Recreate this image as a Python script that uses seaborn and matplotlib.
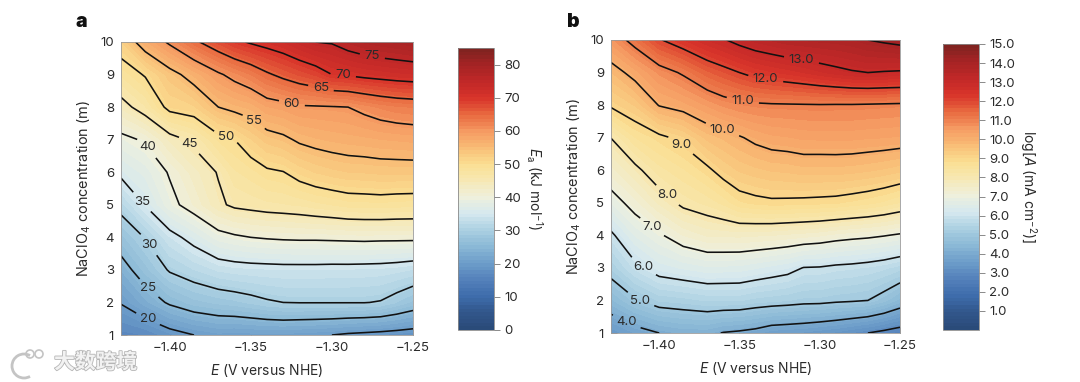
import numpy as np
import matplotlib
matplotlib.use("Agg")
import matplotlib.pyplot as plt
import matplotlib.patheffects as pe
from matplotlib.patches import Circle, Arc
import seaborn as sns

sns.set_theme(style="ticks")
plt.rcParams['font.family'] = ['Inter', 'DejaVu Sans']
plt.rcParams['mathtext.fontset'] = 'custom'
plt.rcParams['mathtext.rm'] = 'Inter'
plt.rcParams['mathtext.it'] = 'Inter:italic'
plt.rcParams['mathtext.default'] = 'regular'

# values
potential = [-1.43, -1.415, -1.40, -1.385, -1.37, -1.36, -1.35, -1.34, -1.33, -1.32,
             -1.31, -1.30, -1.29, -1.28, -1.27, -1.26, -1.25]
conc = [1, 2, 3, 4, 5, 6, 7, 8, 9, 10]

# rows = conc, columns = potential
ea_grid = [
    [16.5, 17.0, 18.7, 20.0, 20.8, 20.6, 20.7, 20.8, 20.8, 20.5, 20.3, 20.0, 19.5, 19.2, 18.9, 18.6, 18.3],
    [20.2, 22.9, 25.5, 27.1, 27.9, 28.3, 28.9, 29.6, 30.0, 30.1, 30.1, 30.1, 30.1, 30.1, 29.8, 28.6, 27.2],
    [23.4, 27.0, 30.35, 31.8, 33.1, 33.5, 33.7, 33.8, 33.9, 33.9, 33.9, 33.8, 33.8, 33.7, 33.6, 33.3, 32.8],
    [27.1, 30.2, 33.85, 36.2, 38.8, 39.5, 40.0, 40.3, 40.5, 40.6, 40.6, 40.7, 40.8, 40.9, 40.8, 40.8, 40.8],
    [31.3, 35.2, 39.0, 41.5, 44.4, 45.6, 46.0, 46.4, 46.6, 46.9, 47.4, 47.8, 48.3, 48.4, 48.5, 48.3, 48.2],
    [35.8, 37.6, 40.3, 43.05, 45.2, 47.6, 48.4, 49.5, 49.9, 51.2, 52.1, 52.7, 53.1, 53.2, 53.4, 53.4, 53.4],
    [39.1, 40.4, 43.7, 45.7, 49.0, 50.0, 51.9, 53.6, 54.3, 55.5, 56.1, 56.5, 56.8, 57.0, 57.3, 57.5, 57.7],
    [43.7, 46.6, 51.0, 51.8, 55.0, 55.9, 56.6, 58.3, 58.8, 59.6, 59.7, 59.8, 60.0, 60.9, 61.8, 62.4, 62.7],
    [48.0, 50.3, 53.7, 56.5, 59.5, 61.1, 62.6, 64.5, 65.9, 67.1, 68.2, 70.0, 70.4, 71.0, 71.4, 71.8, 72.1],
    [52.0, 57.0, 60.6, 64.3, 67.3, 69.2, 70.4, 71.3, 72.2, 73.7, 75.0, 75.3, 76.7, 77.7, 78.4, 78.9, 79.5],
]
loga_grid = [
    [3.4, 3.75, 4.0, 4.15, 4.15, 3.97, 3.9, 3.8, 3.6, 3.55, 3.5, 3.4, 3.3, 3.15, 3.0, 2.85, 2.7],
    [4.44, 4.94, 5.27, 5.34, 5.45, 5.45, 5.45, 5.35, 5.30, 5.25, 5.18, 5.17, 5.10, 5.06, 5.0, 4.75, 4.40],
    [5.27, 5.86, 6.26, 6.40, 6.52, 6.50, 6.48, 6.39, 6.29, 6.19, 5.98, 5.96, 5.88, 5.84, 5.77, 5.67, 5.51],
    [5.89, 6.57, 6.93, 7.31, 7.52, 7.54, 7.55, 7.52, 7.49, 7.44, 7.39, 7.33, 7.23, 7.16, 7.11, 7.03, 6.93],
    [6.73, 7.23, 7.72, 8.13, 8.31, 8.49, 8.77, 8.86, 8.91, 8.90, 8.88, 8.86, 8.83, 8.76, 8.68, 8.57, 8.41],
    [7.41, 7.86, 8.35, 8.59, 8.90, 9.20, 9.40, 9.50, 9.58, 9.61, 9.67, 9.66, 9.67, 9.64, 9.59, 9.52, 9.43],
    [8.01, 8.61, 8.88, 9.14, 9.62, 9.78, 9.95, 10.13, 10.25, 10.29, 10.35, 10.36, 10.36, 10.36, 10.33, 10.31, 10.28],
    [9.08, 9.39, 10.03, 10.22, 10.52, 10.72, 10.85, 10.91, 10.94, 10.95, 10.96, 10.97, 10.96, 10.96, 10.94, 10.92, 10.9],
    [9.73, 10.21, 10.73, 11.08, 11.56, 11.78, 12.0, 12.21, 12.33, 12.44, 12.56, 12.7, 12.83, 12.94, 13.0, 12.96, 12.93],
    [10.6, 11.24, 11.95, 12.35, 12.74, 12.95, 13.2, 13.39, 13.52, 13.65, 13.7, 13.75, 13.78, 13.85, 14.0, 14.1, 14.2],
]

ea_lines = [20, 25, 30, 35, 40, 45, 50, 55, 60, 65, 70, 75]
loga_lines = [3, 4, 5, 6, 7, 8, 9, 10, 11, 12, 13, 14]
ea_ticks = [0, 10, 20, 30, 40, 50, 60, 70, 80]
loga_ticks = [1, 2, 3, 4, 5, 6, 7, 8, 9, 10, 11, 12, 13, 14, 15]
x_ticks = [-1.40, -1.35, -1.30, -1.25]

# where the inline labels sit
ea_label_pos = [(-1.2757, 9.38), (-1.2931, 8.96), (-1.3064, 8.66), (-1.3243, 8.19),
                (-1.3461, 7.70), (-1.3639, 7.31), (-1.3851, 6.98), (-1.4126, 6.80),
                (-1.4191, 5.0), (-1.4169, 3.63), (-1.4142, 2.36), (-1.4154, 1.26)]
loga_label_pos = [(-1.3112, 9.44), (-1.3337, 8.80), (-1.348, 8.12), (-1.3592, 7.43),
                  (-1.3845, 6.92), (-1.3974, 5.09), (-1.4061, 4.15), (-1.4109, 2.97),
                  (-1.4119, 1.99), (-1.4202, 1.35)]

# one colour every 5 kJ/mol on the panel a bar
cmap = sns.blend_palette(
    ["#2a4a78", "#31568a", "#3e6cab", "#5380ba", "#6c9cc9", "#8ab8d6", "#aacfe1", "#d5e8ef", "#eef0dd",
     "#f7e8b4", "#fadf92", "#f9bd76", "#f59a62", "#e8693f", "#d8332a", "#c02828", "#a52324", "#7e2320"],
    n_colors=256, as_cmap=True)

W, H = 1080, 382
fig = plt.figure(figsize=(W / 100, H / 100), dpi=100, facecolor="white")
TXT = "#2b2b2b"
GREY = "#8a8a8a"


def px_axes(x0, y0, x1, y1):
    return fig.add_axes([x0 / W, 1 - y1 / H, (x1 - x0) / W, (y1 - y0) / H])


def panel(box, cbox, grid, vmax, band, lines, fmt, label_pos, ticks, tick_fmt, cb_label, letter, letter_x):
    ax = px_axes(*box)
    cax = px_axes(*cbox)
    fills = np.linspace(0, vmax, band + 1)
    cf = ax.contourf(potential, conc, grid, levels=fills, cmap=cmap, vmin=0, vmax=vmax)
    cf.set_edgecolor("face")
    cf.set_linewidth(0.3)
    cs = ax.contour(potential, conc, grid, levels=lines, colors="#111111", linewidths=1.15)
    lab = ax.clabel(cs, fmt=fmt, fontsize=9.5, manual=label_pos, inline=True, inline_spacing=5)
    for t in lab:
        t.set_color(TXT)
        t.set_rotation(0)
    ax.set_xlim(-1.43, -1.25)
    ax.set_ylim(1, 10)
    ax.set_xticks(x_ticks)
    ax.set_xticklabels(["\u22121.40", "\u22121.35", "\u22121.30", "\u22121.25"])
    ax.set_yticks(conc)
    ax.tick_params(direction="in", length=4, width=0.6, color=GREY, labelsize=9.5, labelcolor=TXT, pad=5)
    ax.tick_params(axis="x", pad=5)
    for s in ax.spines.values():
        s.set_linewidth(0.6)
        s.set_color("#9a9a9a")
    ax.set_xlabel(r"$\mathit{E}$ (V versus NHE)", fontsize=10, color=TXT, labelpad=6)
    ax.set_ylabel("NaClO$_{4}$ concentration (m)", fontsize=10.4, color=TXT, labelpad=5)

    cb = fig.colorbar(cf, cax=cax)
    cb.set_ticks(ticks)
    cb.set_ticklabels([tick_fmt % t for t in ticks])
    cb.ax.tick_params(length=4, width=0.7, color=GREY, labelsize=9.5, labelcolor=TXT, pad=3.5)
    cb.outline.set_linewidth(0.6)
    cb.outline.set_edgecolor("#8a8a8a")
    cb.set_label(cb_label, rotation=270, fontsize=10, color=TXT, labelpad=17)
    fig.text(letter_x / W, 1 - 22 / H, letter, fontsize=14, fontweight="black", color="#111111",
             ha="left", va="center")
    return ax


panel((121, 42, 413, 335), (458, 48, 494, 330), ea_grid, 85, 80, ea_lines, "%d", ea_label_pos,
      ea_ticks, "%d", r"$\mathit{E}_{a}$ (kJ mol$^{-1}$)", "a", 76)
panel((611, 40, 900, 333), (943, 44, 979, 330), loga_grid, 15, 80, loga_lines, "%.1f", loga_label_pos,
      loga_ticks, "%.1f", r"log[$\mathit{A}$ (mA cm$^{-2}$)]", "b", 567)

# watermark
mark = fig.text(54 / W, 1 - 362 / H, "大数跨境", fontsize=15, fontweight="bold", color="#f2f2f2",
                family=["Noto Sans CJK SC", "DejaVu Sans"], ha="left", va="center", zorder=10)
mark.set_path_effects([pe.withStroke(linewidth=1.2, foreground="#b5b5b5")])
for cx, cy, r in [(30, 354, 4), (39, 354, 4)]:
    fig.add_artist(Circle((cx, H - cy), r, transform=None, fill=False, ec="#c4c4c4", lw=1.2))
fig.add_artist(Arc((24, H - 366), 24, 24, theta1=60, theta2=300, transform=None, ec="#c4c4c4", lw=2.0))

fig.savefig("out.png", dpi=100)
